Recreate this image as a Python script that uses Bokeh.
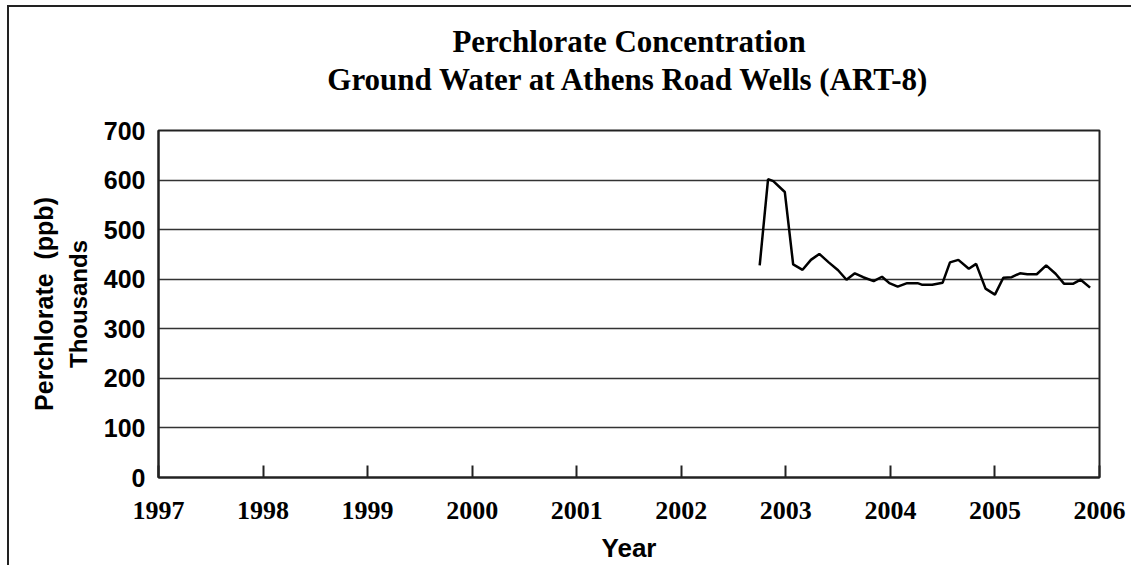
from bokeh.plotting import figure
from bokeh.models import LinearAxis, FixedTicker, Range1d, InlineStyleSheet
from bokeh.embed import file_html
from bokeh.resources import INLINE

# Data, x in decimal years, y in thousands ppb
years = [2002.75, 2002.83, 2002.88, 2002.99, 2003.07, 2003.16, 2003.24, 2003.32,
         2003.41, 2003.50, 2003.58, 2003.66, 2003.74, 2003.84, 2003.92, 2003.99,
         2004.07, 2004.16, 2004.26, 2004.30, 2004.40, 2004.50, 2004.57, 2004.65,
         2004.75, 2004.82, 2004.91, 2005.00, 2005.08, 2005.16, 2005.24, 2005.31,
         2005.40, 2005.49, 2005.58, 2005.66, 2005.75, 2005.82, 2005.91]
perchlorate = [428, 602, 598, 576, 430, 419, 439, 451,
               434, 418, 399, 412, 404, 396, 405, 392,
               385, 392, 392, 389, 389, 393, 434, 439,
               421, 431, 381, 369, 403, 404, 412, 410,
               410, 428, 411, 391, 391, 399, 383]
x_ticks = list(range(1997, 2007))
y_ticks = list(range(0, 800, 100))

title_line1 = "Perchlorate Concentration"
title_line2 = "Ground Water at Athens Road Wells (ART-8)"

p = figure(width=1131, height=565, output_backend="svg", toolbar_location=None,
           x_range=Range1d(x_ticks[0], x_ticks[-1]), y_range=Range1d(y_ticks[0], y_ticks[-1]),
           min_border_left=158, min_border_right=32, min_border_top=130,
           min_border_bottom=88)
p.title = None
p.background_fill_color = "white"
p.border_fill_color = "white"
p.outline_line_color = "#222222"
p.outline_line_width = 2
p.stylesheets = [InlineStyleSheet(css=(
    ":host { position: relative; }"
    ":host::after { content: ''; position: absolute; left: 7px; top: 5px; right: 0; bottom: 0;"
    " border-left: 2px solid #222222; border-top: 2px solid #222222; pointer-events: none; z-index: 10; }"))]

p.line(years, perchlorate, line_color="black", line_width=2.5)

# X axis (bottom)
xa = p.below[0]
xa.ticker = FixedTicker(ticks=x_ticks)
xa.major_tick_in = 12
xa.major_tick_out = 0
xa.minor_tick_line_color = None
xa.axis_line_color = "#222222"
xa.axis_line_width = 2
xa.major_tick_line_color = "#222222"
xa.major_tick_line_width = 2
xa.major_label_text_font = "Liberation Serif"
xa.major_label_text_font_style = "bold"
xa.major_label_text_font_size = "26px"
xa.major_label_text_color = "black"
xa.major_label_standoff = 24
xa.axis_label = "Year"
xa.axis_label_text_font = "Liberation Sans"
xa.axis_label_text_font_style = "bold"
xa.axis_label_text_font_size = "26px"
xa.axis_label_text_color = "black"
xa.axis_label_standoff = 11

# Y axis (left)
ya = p.left[0]
ya.ticker = FixedTicker(ticks=y_ticks)
ya.major_tick_in = 0
ya.major_tick_out = 0
ya.minor_tick_line_color = None
ya.axis_line_color = "#222222"
ya.axis_line_width = 2
ya.major_label_text_font = "Liberation Sans"
ya.major_label_text_font_style = "bold"
ya.major_label_text_font_size = "25px"
ya.major_label_text_color = "black"
ya.major_label_standoff = 13
ya.axis_label = "Thousands"
ya.axis_label_text_font = "Liberation Sans"
ya.axis_label_text_font_style = "bold"
ya.axis_label_text_font_size = "24px"
ya.axis_label_text_color = "black"
ya.axis_label_standoff = 9


def label_axis(text, standoff, font, size):
    return LinearAxis(ticker=FixedTicker(ticks=[]), axis_line_color=None,
                      major_tick_line_color=None, minor_tick_line_color=None,
                      major_label_text_font_size="0px",
                      axis_label=text,
                      axis_label_text_font=font,
                      axis_label_text_font_style="bold",
                      axis_label_text_font_size=size,
                      axis_label_text_color="black",
                      axis_label_standoff=standoff)


# Outer y-axis title line
p.add_layout(label_axis("Perchlorate\u00a0 (ppb)", 4, "Liberation Sans", "25px"), "left")

# Two-line title stacked above the frame
p.add_layout(label_axis(title_line2, 34, "Liberation Serif", "31px"), "above")
p.add_layout(label_axis(title_line1, 0, "Liberation Serif", "31px"), "above")

p.xgrid.grid_line_color = None
p.ygrid.ticker = FixedTicker(ticks=y_ticks)
p.ygrid.grid_line_color = "#333333"
p.ygrid.grid_line_width = 1.5

open("out.html", "w").write(file_html(p, INLINE))
